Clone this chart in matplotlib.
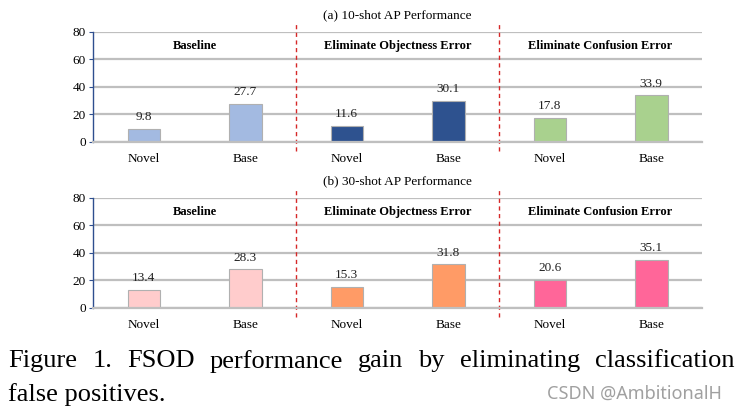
import matplotlib
matplotlib.use("Agg")
import matplotlib.pyplot as plt

categories = ["Novel", "Base", "Novel", "Base", "Novel", "Base"]
groups = ["Baseline", "Eliminate Objectness Error", "Eliminate Confusion Error"]
ap_10shot = [9.8, 27.7, 11.6, 30.1, 17.8, 33.9]
ap_30shot = [13.4, 28.3, 15.3, 31.8, 20.6, 35.1]
colors_10shot = ["#A3BAE1", "#A3BAE1", "#2E528F", "#2E528F", "#A9D18E", "#A9D18E"]
colors_30shot = ["#FFCCCC", "#FFCCCC", "#FF9B66", "#FF9B66", "#FF6699", "#FF6699"]
titles = ["(a) 10-shot AP Performance", "(b) 30-shot AP Performance"]
caption_line1 = "Figure 1. FSOD performance gain by eliminating classification"
caption_line2 = "false positives."

plt.rcParams["font.family"] = ["Liberation Serif", "DejaVu Serif"]

fig = plt.figure(figsize=(7.4, 4.17), dpi=100)
ax_top = fig.add_axes([0.1257, 0.6595, 0.823, 0.2638])
ax_bot = fig.add_axes([0.1257, 0.2614, 0.823, 0.2638])


def draw_panel(ax, values, colors, title):
    x = list(range(len(values)))
    ax.set_axisbelow(True)
    ax.yaxis.grid(True, color="#BFBFBF", linewidth=1.6)
    ax.bar(x, values, width=0.32, color=colors, edgecolor="#B0B0B0", linewidth=0.8)
    for xi, v in zip(x, values):
        ax.annotate(f"{v:.1f}", (xi, v), xytext=(0, 4), textcoords="offset points",
                    ha="center", va="bottom", fontsize=9.5, color="#222222")
    for i, g in enumerate(groups):
        ax.text(2 * i + 0.5, 70, g, ha="center", va="center", fontsize=9, fontweight="bold")
    for xd in [1.5, 3.5]:
        ax.axvline(xd, ymin=-0.08, ymax=1.09, color="#D62828", linestyle=(0, (3, 2.5)),
                   linewidth=1.0, clip_on=False)
    ax.set_xlim(-0.5, 5.5)
    ax.set_ylim(0, 80)
    ax.set_yticks([0, 20, 40, 60, 80])
    ax.set_xticks(x)
    ax.set_xticklabels(categories, fontsize=9.5)
    ax.tick_params(axis="x", length=0, pad=8)
    ax.tick_params(axis="y", labelsize=9.5, length=3, color="#2F4F8F", pad=2)
    for s in ["top", "right"]:
        ax.spines[s].set_visible(False)
    ax.spines["left"].set_color("#2F4F8F")
    ax.spines["left"].set_linewidth(1.0)
    ax.spines["bottom"].set_color("#BFBFBF")
    ax.spines["bottom"].set_linewidth(1.6)
    ax.set_title(title, fontsize=9.5, pad=10, x=0.5)


draw_panel(ax_top, ap_10shot, colors_10shot, titles[0])
draw_panel(ax_bot, ap_30shot, colors_30shot, titles[1])

# first caption line is justified across the page width
renderer = fig.canvas.get_renderer()
words = caption_line1.split()
left, right = 0.011, 0.993
widths = []
for w in words:
    t = fig.text(0, 0, w, fontsize=19)
    widths.append(t.get_window_extent(renderer).width / fig.bbox.width)
    t.remove()
gap = (right - left - sum(widths)) / (len(words) - 1)
xpos = left
for w, wd in zip(words, widths):
    fig.text(xpos, 0.134, w, fontsize=19, ha="left", va="center")
    xpos += wd + gap

fig.text(left, 0.055, caption_line2, fontsize=19, ha="left", va="center")
fig.text(0.975, 0.055, "CSDN @AmbitionalH", fontsize=13, ha="right", va="center",
         color="#A0A0A0", family=["Noto Sans", "DejaVu Sans"], stretch="condensed")

fig.savefig("out.png", dpi=100)
